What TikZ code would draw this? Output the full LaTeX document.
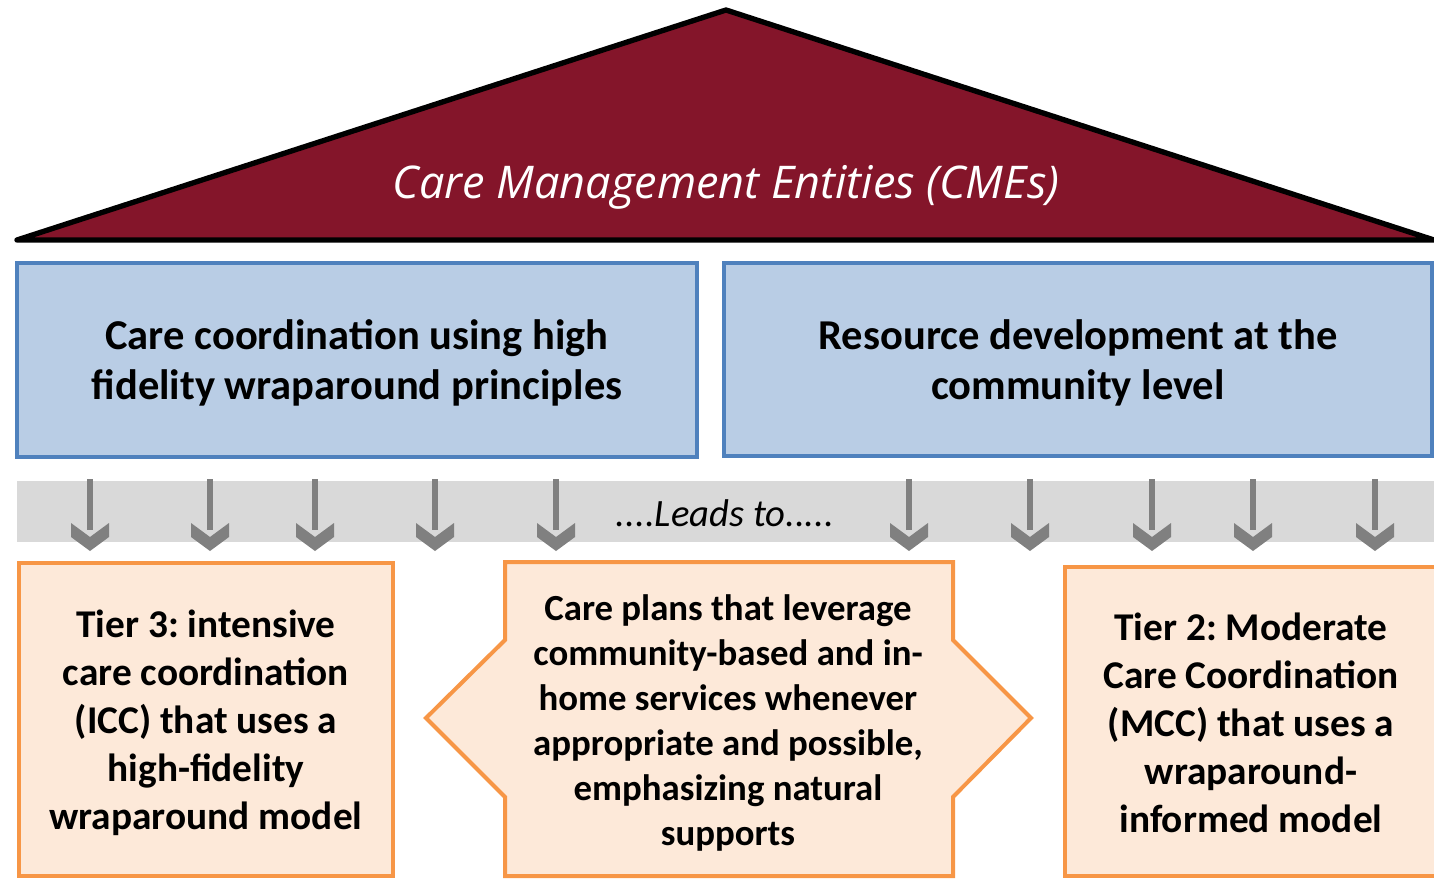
\documentclass[tikz,border=0pt]{standalone}
\usepackage{fontspec}
\setmainfont{Carlito}
\newfontfamily\titlefont{Open Sans}
\frenchspacing
\definecolor{roof}{HTML}{84152A}
\definecolor{bluefill}{HTML}{B9CDE5}
\definecolor{blueline}{HTML}{4F81BD}
\definecolor{orfill}{HTML}{FDE9D9}
\definecolor{orline}{HTML}{F79646}
\definecolor{band}{HTML}{D9D9D9}
\definecolor{arr}{HTML}{808080}
\begin{document}
\begin{tikzpicture}[x=0.75pt,y=-0.75pt,
  bluebox/.style={draw=blueline,fill=bluefill,line width=3pt,inner sep=0pt,
    font=\fontsize{31.9}{37.5}\selectfont\bfseries,align=center},
  orbox/.style={draw=orline,fill=orfill,line width=3pt},
  sidetext/.style={font=\fontsize{29.5}{36}\selectfont\bfseries,align=center},
  hextext/.style={font=\fontsize{27.6}{33.75}\selectfont\bfseries,align=center},
  chev/.style={fill=arr,draw=none}]
\useasboundingbox (0,0) rectangle (1434,878);
% roof
\draw[fill=roof,line width=4pt,line join=round] (17,240) -- (726,10) -- (1434,240) -- cycle;
\node[text=white,font=\titlefont\itshape\fontsize{33.8}{40}\selectfont] (title) at (726,187) {Care Management Entities (CMEs)};
% blue boxes
\draw[bluebox] (17,263) rectangle (697,457);
\node[bluebox,draw=none,fill=none] (care) at (357,363) {Care coordination using high\\fidelity wraparound principles};
\draw[bluebox] (724,263) rectangle (1432,456);
\node[bluebox,draw=none,fill=none] (res) at (1078,363) {Resource development at the\\community level};
% band
\fill[band] (17,481) rectangle (1434,542);
\node[font=\fontsize{29}{35}\selectfont\itshape] (leads) at (725,513) {....Leads to.....};
% arrows
\foreach \x in {90,210,315,435,556,909,1030,1152,1253,1375}{
  \fill[arr] (\x-3,479) rectangle (\x+3,530);
  \fill[chev] (\x-19,523) -- (\x,537) -- (\x+19,523) -- (\x+19,537) -- (\x,551) -- (\x-19,537) -- cycle;
}
% bottom boxes
\draw[orbox] (19,563) rectangle (393,876);
\node[sidetext] (tier3) at (206,723) {Tier 3: intensive\\care coordination\\(ICC) that uses a\\high-fidelity\\wraparound model};
\draw[orbox,line join=miter] (505,562) -- (953,562) -- (953,640) -- (1031,718) -- (953,797) -- (953,876) -- (505,876) -- (505,797) -- (426,718) -- (505,640) -- cycle;
\node[hextext] (plans) at (728,723) {Care plans that leverage\\community-based and in-\\home services whenever\\appropriate and possible,\\emphasizing natural\\supports};
\draw[orbox] (1065,567) rectangle (1440,876);
\node[sidetext] (tier2) at (1251,723) {Tier 2: Moderate\\Care Coordination\\(MCC) that uses a\\wraparound-\\informed model};
\end{tikzpicture}
\end{document}
